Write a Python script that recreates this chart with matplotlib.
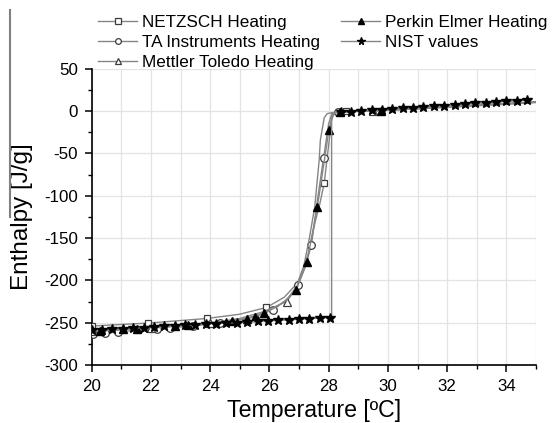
import matplotlib
matplotlib.use('Agg')
import matplotlib.pyplot as plt
from matplotlib.lines import Line2D
from matplotlib.ticker import MultipleLocator

plt.rcParams['font.family'] = ['Liberation Sans', 'DejaVu Sans']
plt.rcParams['axes.unicode_minus'] = False

# NIST reference values (stars), incl. the vertical jump at the melting point
nist_t = [20.0, 20.35, 20.7, 21.05, 21.4, 21.75, 22.1, 22.45, 22.8, 23.15, 23.5, 23.85,
          24.2, 24.55, 24.9, 25.25, 25.6, 25.95, 26.3, 26.65, 27.0, 27.35, 27.7, 28.05,
          28.1, 28.1,
          28.4, 28.75, 29.1, 29.45, 29.8, 30.15, 30.5, 30.85, 31.2, 31.55, 31.9, 32.25,
          32.6, 32.95, 33.3, 33.65, 34.0, 34.35, 34.7]
nist_h = [-259, -258.3, -257.6, -257, -256.3, -255.7, -255, -254.3, -253.6, -253, -252.3, -251.6,
          -251, -250.4, -249.8, -249.2, -248.6, -248, -247.3, -246.7, -246, -245.3, -244.6, -244,
          -244, -2.5,
          -1.5, -0.7, 0.1, 0.9, 1.7, 2.5, 3.3, 4.1, 4.9, 5.7, 6.5, 7.3,
          8.1, 8.9, 9.7, 10.5, 11.3, 12.1, 12.9]

netzsch_t = [20.0, 21.9, 23.9, 25.0, 25.9, 26.5, 26.95, 27.3, 27.55, 27.7, 27.85, 28.0,
             28.1, 28.2, 28.6, 30.0, 32.0, 34.0, 35.0]
netzsch_h = [-254, -250.5, -245, -240, -232, -220, -203, -170, -130, -110, -85, -40,
             -10, -2, -0.5, 1.5, 5.5, 9, 11]
netzsch_marks = [20.0, 21.9, 23.9, 25.9, 27.85, 28.6]

ta_t = [20.05, 20.45, 20.9, 21.5, 22.19, 22.64, 23.43, 24.33, 25.2, 26.13, 26.6, 26.97,
        27.2, 27.42, 27.6, 27.83, 28.0, 28.1, 28.3, 30.0, 32.0, 34.0, 35.0]
ta_h = [-263, -262.5, -261, -259, -257, -256, -254, -250, -245, -235, -222, -205,
        -185, -158, -110, -55, -15, -4, -1, 1, 4.5, 8, 10]
ta_marks = [20.05, 20.45, 20.9, 22.19, 22.64, 23.43, 24.33, 26.13, 26.97, 27.42, 27.83, 28.3]

mettler_t = [20.0, 21.0, 22.0, 23.0, 24.0, 25.0, 25.8, 26.58, 26.9, 27.15, 27.35, 27.53,
             27.68, 27.72, 27.85, 27.95, 28.2, 29.5, 31.0, 33.0, 35.0]
mettler_h = [-260, -258.5, -256.5, -254, -250.5, -245, -237, -225, -210, -185, -150, -113,
             -58, -34, -8, -3, -1.5, 0, 2.5, 6.5, 10.5]
mettler_marks = [20.0, 22.0, 24.0, 26.58, 29.5]

perkin_t = [20.28, 21.07, 21.52, 22.2, 22.81, 23.26, 24.0, 24.72, 25.23, 25.5, 25.82, 26.2,
            26.55, 26.91, 27.27, 27.62, 28.01, 28.15, 28.38, 29.78, 31.5, 33.5, 35.0]
perkin_h = [-260, -258, -257, -255.5, -254, -252.5, -250, -248, -245.5, -243, -239, -232,
            -224, -211, -178, -113, -22, -3, -1, 0.5, 4, 8, 10.5]
perkin_marks = [20.28, 21.07, 21.52, 22.81, 23.26, 24.72, 25.23, 25.5, 25.82, 26.91,
                27.27, 27.62, 28.01, 28.38, 29.78]

line_col = '#858585'
edge_col = '#3c3c3c'


def mark_index(t_list, marks):
    return [i for i, t in enumerate(t_list) if t in marks]


fig = plt.figure(figsize=(5.53, 4.23), dpi=100)
ax = fig.add_axes([0.1658, 0.1371, 0.9693 - 0.1658, 0.8376 - 0.1371])

ax.plot(netzsch_t, netzsch_h, color=line_col, lw=1.0, marker='s', ms=5,
        mfc='white', mec=edge_col, mew=0.9,
        markevery=mark_index(netzsch_t, netzsch_marks), label='NETZSCH Heating', zorder=3)
ax.plot(ta_t, ta_h, color=line_col, lw=1.0, marker='o', ms=5.5,
        mfc='white', mec=edge_col, mew=0.9,
        markevery=mark_index(ta_t, ta_marks), label='TA Instruments Heating', zorder=3)
ax.plot(mettler_t, mettler_h, color=line_col, lw=1.0, marker='^', ms=5.5,
        mfc='white', mec=edge_col, mew=0.9,
        markevery=mark_index(mettler_t, mettler_marks), label='Mettler Toledo Heating', zorder=3)
ax.plot(perkin_t, perkin_h, color=line_col, lw=1.0, marker='^', ms=6,
        mfc='black', mec='black',
        markevery=mark_index(perkin_t, perkin_marks), label='Perkin Elmer Heating', zorder=4)
star_idx = [i for i in range(len(nist_t)) if i not in (24, 25)]
ax.plot(nist_t, nist_h, color=line_col, lw=1.0, marker='*', ms=7.5,
        mfc='black', mec='black', markevery=star_idx, label='NIST values', zorder=5)

ax.set_xlim(20, 35)
ax.set_ylim(-300, 50)
ax.xaxis.set_major_locator(MultipleLocator(2))
ax.xaxis.set_minor_locator(MultipleLocator(1))
ax.yaxis.set_major_locator(MultipleLocator(50))
ax.yaxis.set_minor_locator(MultipleLocator(25))

ax.grid(True, which='both', axis='x', color='#e3e3e3', lw=0.9)
ax.grid(True, which='major', axis='y', color='#e3e3e3', lw=0.9)
ax.set_axisbelow(True)

for side in ['top', 'right']:
    ax.spines[side].set_visible(False)
for side in ['left', 'bottom']:
    ax.spines[side].set_linewidth(1.2)

ax.tick_params(which='major', direction='out', length=5, width=1.1, labelsize=12.2, pad=5)
ax.tick_params(which='minor', direction='out', length=3, width=1.0)

ax.set_xlabel('Temperature [ºC]', fontsize=16.7, labelpad=4)
ax.set_ylabel('Enthalpy [J/g]', fontsize=17.5, labelpad=8)

fig.legend(loc='upper left', bbox_to_anchor=(0.162, 0.985), ncol=2, frameon=False,
           fontsize=12.3, handlelength=2.3, handletextpad=0.25, labelspacing=0.3,
           columnspacing=1.25, borderpad=0, markerscale=0.75)

# stray vertical rule at the left edge of the original image
fig.add_artist(Line2D([10 / 553, 10 / 553], [1 - 10 / 423, 1 - 217 / 423],
                      transform=fig.transFigure, color='#808080', lw=1.5))

fig.savefig('out.png', dpi=100)
